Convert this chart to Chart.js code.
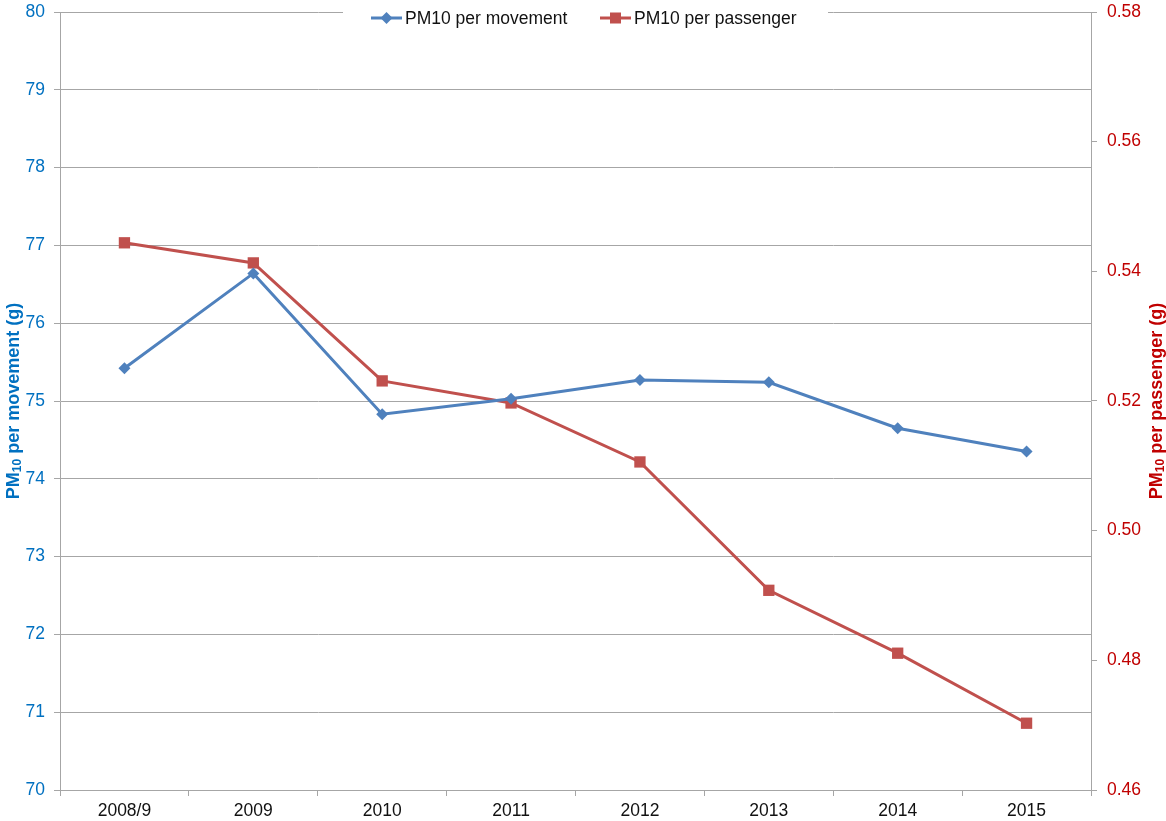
<!DOCTYPE html>
<html>
<head>
<meta charset="utf-8">
<script src="https://cdn.jsdelivr.net/npm/chart.js@4.4.1/dist/chart.umd.min.js"></script>
<style>
html,body{margin:0;padding:0;background:#fff;}
#wrap{width:1166px;height:821px;position:relative;}
</style>
</head>
<body>
<div id="wrap"><canvas id="c" width="1166" height="821"></canvas></div>
<script>
const categories = ["2008/9","2009","2010","2011","2012","2013","2014","2015"];
const pmPerMovement = [75.42, 76.64, 74.83, 75.03, 75.27, 75.24, 74.65, 74.35];
const pmPerPassenger = [0.5444, 0.5413, 0.5231, 0.5197, 0.5106, 0.4908, 0.4811, 0.4703];
const leftTicks = [70,71,72,73,74,75,76,77,78,79,80];
const rightTicks = [0.46,0.48,0.50,0.52,0.54,0.56,0.58];
const seriesLabels = ["PM10 per movement","PM10 per passenger"];
const leftTitle = ["PM","10"," per movement (g)"];
const rightTitle = ["PM","10"," per passenger (g)"];

const BLUE = "#4F81BD", RED = "#C0504D";
const LBLUE = "#0070C0", LRED = "#C00000";
const FONT = "'Liberation Sans', Arial, sans-serif";
const FS = 17.5;

const overlay = {
  id: "overlay",
  afterDraw(chart) {
    const ctx = chart.ctx;
    const a = chart.chartArea;
    function title(parts, x, y, color) {
      ctx.save();
      ctx.translate(x, y);
      ctx.rotate(-Math.PI/2);
      ctx.fillStyle = color;
      ctx.textBaseline = "middle";
      const big = "bold 18px " + FONT, small = "bold 12px " + FONT;
      ctx.font = big; const w0 = ctx.measureText(parts[0]).width;
      ctx.font = small; const w1 = ctx.measureText(parts[1]).width;
      ctx.font = big; const w2 = ctx.measureText(parts[2]).width;
      let sx = -(w0 + w1 + w2) / 2;
      ctx.font = big; ctx.fillText(parts[0], sx, 0); sx += w0;
      ctx.font = small; ctx.fillText(parts[1], sx, 4); sx += w1;
      ctx.font = big; ctx.fillText(parts[2], sx, 0);
      ctx.restore();
    }
    const cy = (a.top + a.bottom) / 2;
    title(leftTitle, 14, cy, LBLUE);
    title(rightTitle, 1157, cy, LRED);

    ctx.save();
    ctx.fillStyle = "#fff";
    ctx.fillRect(343, a.top - 2, 485, 14);
    ctx.font = FS + "px " + FONT;
    ctx.textBaseline = "middle";
    const ly = 18;
    const items = [
      {x: 371, color: BLUE, style: "diamond", label: chart.data.datasets[0].label},
      {x: 600, color: RED, style: "square", label: chart.data.datasets[1].label}
    ];
    items.forEach(it => {
      ctx.strokeStyle = it.color; ctx.lineWidth = 3;
      ctx.beginPath(); ctx.moveTo(it.x, ly); ctx.lineTo(it.x + 31, ly); ctx.stroke();
      ctx.fillStyle = it.color;
      const mx = it.x + 15.5;
      if (it.style === "diamond") {
        ctx.beginPath(); ctx.moveTo(mx, ly-6); ctx.lineTo(mx+6, ly); ctx.lineTo(mx, ly+6); ctx.lineTo(mx-6, ly); ctx.closePath(); ctx.fill();
      } else {
        ctx.fillRect(mx-5.5, ly-5.5, 11, 11);
      }
      ctx.fillStyle = "#111";
      ctx.fillText(it.label, it.x + 34, ly + 1);
    });
    ctx.restore();
  }
};

function noPadV(s) { s.paddingTop = 0; s.paddingBottom = 0; }

new Chart(document.getElementById("c"), {
  type: "line",
  data: {
    labels: categories,
    datasets: [
      {label: seriesLabels[0], data: pmPerMovement, yAxisID: "y", borderColor: BLUE, backgroundColor: BLUE,
       borderWidth: 3, pointStyle: "rectRot", pointRadius: 6, pointBorderWidth: 0, tension: 0},
      {label: seriesLabels[1], data: pmPerPassenger, yAxisID: "y1", borderColor: RED, backgroundColor: RED,
       borderWidth: 3, pointStyle: "rect", pointRadius: 8, pointBorderWidth: 0, tension: 0}
    ]
  },
  options: {
    responsive: false,
    animation: false,
    layout: {padding: {top: 12, left: 0, right: 0, bottom: 0}},
    plugins: {legend: {display: false}, tooltip: {enabled: false}},
    scales: {
      x: {
        offset: true,
        grid: {offset: true, drawOnChartArea: false, drawTicks: true, tickLength: 6, color: "#A6A6A6", tickColor: "#A6A6A6"},
        border: {color: "#A6A6A6", width: 1},
        ticks: {color: "#111", font: {family: FONT, size: FS}, padding: 5, maxRotation: 0},
        afterFit(s) { s.height = 31; s.paddingLeft = 0; s.paddingRight = 0; }
      },
      y: {
        position: "left",
        min: 70, max: 80,
        afterBuildTicks(s) { s.ticks = leftTicks.map(v => ({value: v})); },
        grid: {color: "#A6A6A6", lineWidth: 1, tickLength: 6, tickColor: "#A6A6A6"},
        border: {color: "#A6A6A6", width: 1, display: true},
        ticks: {color: LBLUE, font: {family: FONT, size: FS}, padding: 9},
        afterFit(s) { s.width = 60; noPadV(s); }
      },
      y1: {
        position: "right",
        min: 0.46, max: 0.58,
        afterBuildTicks(s) { s.ticks = rightTicks.map(v => ({value: v})); },
        grid: {drawOnChartArea: false, tickLength: 6, tickColor: "#A6A6A6"},
        border: {color: "#A6A6A6", width: 1},
        ticks: {color: LRED, font: {family: FONT, size: FS}, padding: 10, callback: v => Number(v).toFixed(2)},
        afterFit(s) { s.width = 75; noPadV(s); }
      }
    }
  },
  plugins: [overlay]
});
</script>
</body>
</html>
